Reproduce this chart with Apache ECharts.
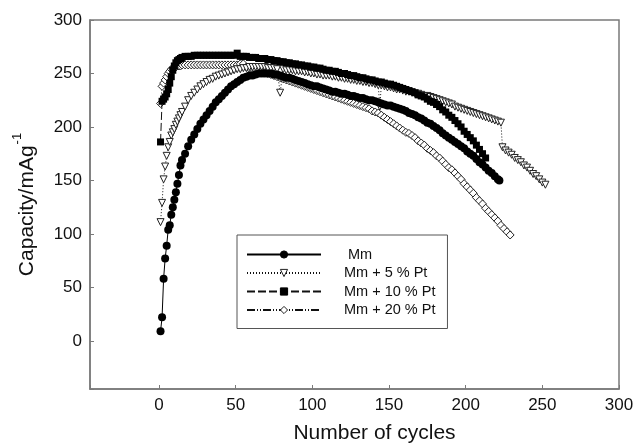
<!DOCTYPE html>
<html>
<head>
<meta charset="utf-8">
<script src="https://cdn.jsdelivr.net/npm/echarts@6/dist/echarts.min.js"></script>
<style>
  html, body { margin: 0; padding: 0; background: #fff; }
  #chart { width: 637px; height: 445px; }
</style>
</head>
<body>
<div id="chart"></div>
<script>
// Discharge capacity against cycle number for the four electrodes, as [cycle, capacity] pairs.
const mmData = [
  [1,9],[2,22],[3,58],[4,77],[5,89],[6,104],[7,108],[8,118],[9,125],[10,132],[11,139],[12,147],[13,155],[14,164],[15,169],
  [17,175],[19,182],[21,188],[23,193],[25,198],[27,203],[29,207],[31,211],[33,215],[35,219],[37,223],[39,226],[41,229],[43,232],
  [45,235],[47,238],[49,240],[51,242],[53,244],[55,246],[57,247],[59,248],[61,248],[63,249],[65,250],[67,250],[69,250],[71,250],
  [73,250],[75,249],[77,249],[79,248],[81,247],[83,246],[85,246],[87,245],[89,244],[91,243],[93,242],[95,241],[97,240],[99,239],
  [101,238],[103,238],[105,237],[107,236],[109,235],[111,234],[113,233],[115,233],[117,232],[119,231],[121,231],[123,230],[125,229],
  [127,229],[129,228],[131,227],[133,227],[135,226],[137,225],[139,225],[141,224],[143,223],[145,222],[147,221],[149,220],[151,220],
  [153,219],[155,218],[157,217],[159,216],[161,215],[163,213],[165,212],[167,211],[169,209],[171,208],[173,206],[175,204],[177,203],
  [179,201],[181,199],[183,197],[185,194],[187,192],[189,190],[191,188],[193,186],[195,184],[197,182],[199,180],[201,177],[203,175],
  [205,173],[207,170],[209,167],[211,165],[213,162],[215,159],[217,157],[219,154],[221,151],[222,150]
];

const pt5Data = [
  [1,111],[2,129],[3,151],[4,163],[5,173],[6,181],[7,186],[8,192],[9,195],[10,198],[11,202],[12,205],[13,208],[14,211],[15,214],
  [17,219],[19,225],[21,229],[23,232],[25,235],[27,238],[29,240],[31,242],[33,244],[35,245],[37,247],[39,248],[41,249],[43,250],
  [45,251],[47,252],[49,253],[51,254],[53,254],[55,255],[57,255],[59,256],[61,256],[63,256],[65,256],[67,256],[69,256],[71,255],
  [73,255],[75,255],[77,254],[79,232],[81,254],[83,253],[85,253],[87,253],[89,252],[91,252],[93,252],[95,251],[97,251],[99,250],
  [101,250],[103,249],[105,249],[107,248],[109,248],[111,248],[113,247],[115,247],[117,246],[119,246],[121,245],[123,245],[125,244],
  [127,244],[129,243],[131,243],[133,242],[135,242],[137,241],[139,241],[141,240],[143,239],[144,219],[145,239],[147,238],[149,237],
  [151,237],[153,236],[155,235],[157,235],[159,234],[161,233],[163,233],[165,232],[167,231],[169,231],[171,230],[173,229],[175,229],
  [177,228],[179,227],[181,226],[183,225],[185,224],[187,223],[189,222],[191,221],[193,219],[195,218],[197,217],[199,216],[201,215],
  [203,214],[205,213],[207,212],[209,211],[211,210],[213,209],[215,208],[217,207],[219,206],[221,205],[223,204],[224,181],[226,178],
  [228,176],[230,174],[232,171],[234,169],[236,167],[238,164],[240,162],[242,159],[244,156],[246,154],[248,151],[250,148],[252,146]
];

const pt10Data = [
  [1,186],[2,224],[3,226],[4,228],[5,231],[6,235],[7,241],[8,247],[9,253],[10,257],[11,260],[12,262],[13,263],[14,264],[15,265],
  [17,266],[19,266],[21,266],[23,267],[25,267],[27,267],[29,267],[31,267],[33,267],[35,267],[37,267],[39,267],[41,267],[43,267],
  [45,267],[47,267],[49,267],[51,269],[53,266],[55,266],[57,266],[59,265],[61,265],[63,265],[65,264],[67,264],[69,264],[71,263],
  [73,263],[75,262],[77,262],[79,261],[81,261],[83,260],[85,260],[87,259],[89,259],[91,258],[93,258],[95,257],[97,257],[99,256],
  [101,256],[103,255],[105,255],[107,254],[109,253],[111,253],[113,252],[115,252],[117,251],[119,250],[121,250],[123,249],[125,248],
  [127,248],[129,247],[131,246],[133,246],[135,245],[137,244],[139,244],[141,243],[143,242],[145,242],[147,241],[149,240],[151,240],
  [153,239],[155,238],[157,237],[159,236],[161,235],[163,234],[165,233],[167,232],[169,230],[171,229],[173,228],[175,226],[177,224],
  [179,223],[181,221],[183,219],[185,216],[187,214],[189,211],[191,209],[193,206],[195,203],[197,200],[199,196],[201,193],[203,190],
  [205,187],[207,183],[209,179],[211,175],[213,171]
];

const pt20Data = [
  [1,222],[2,238],[3,241],[4,244],[5,247],[6,250],[7,252],[8,254],[9,255],[10,256],[11,256],[12,257],[13,257],[14,257],[15,258],
  [17,258],[19,258],[21,258],[23,258],[25,258],[27,258],[29,258],[31,258],[33,258],[35,258],[37,258],[39,258],[41,258],[43,258],
  [45,258],[47,258],[49,258],[51,258],[53,259],[55,259],[57,256],[59,255],[61,255],[63,254],[65,253],[67,252],[69,251],[71,250],
  [73,249],[75,248],[77,247],[79,246],[81,245],[83,244],[85,243],[87,242],[89,241],[91,240],[93,239],[95,238],[97,237],[99,236],
  [101,235],[103,234],[105,233],[107,232],[109,231],[111,230],[113,229],[115,228],[117,227],[119,226],[121,225],[123,224],[125,223],
  [127,222],[129,221],[131,220],[133,219],[135,218],[137,217],[139,215],[141,214],[143,213],[145,211],[147,209],[149,207],[151,205],
  [153,203],[155,201],[157,199],[159,197],[161,195],[163,194],[165,192],[167,190],[169,187],[171,185],[173,183],[175,180],[177,178],
  [179,176],[181,173],[183,171],[185,168],[187,165],[189,162],[191,160],[193,157],[195,154],[197,151],[199,147],[201,144],[203,141],
  [205,138],[207,134],[209,131],[211,128],[213,124],[215,121],[217,118],[219,115],[221,112],[223,108],[225,105],[227,102],[229,99]
];

const seriesNames = [' Mm', 'Mm + 5 % Pt', 'Mm + 10 % Pt', 'Mm + 20 % Pt'];
const xTicks = [0, 50, 100, 150, 200, 250, 300];
const yTicks = [0, 50, 100, 150, 200, 250, 300];

const FONT = '"Liberation Sans", Arial, Helvetica, sans-serif';
const INK = '#111';
const FRAME = '#7a7a7a';

const chart = echarts.init(document.getElementById('chart'), null, { renderer: 'canvas' });

const axisCommon = {
  type: 'value',
  min: -45,
  max: 300,
  minInterval: 50,
  maxInterval: 50,
  axisLine: { show: true, onZero: false, lineStyle: { color: FRAME, width: 1.5 } },
  axisTick: { show: true, inside: true, length: 4, lineStyle: { color: FRAME, width: 1 } },
  splitLine: { show: false },
  nameLocation: 'middle'
};

const option = {
  animation: false,
  backgroundColor: '#fff',
  textStyle: { fontFamily: FONT },
  grid: {
    left: 90, right: 18, top: 20, bottom: 56,
    outerBoundsMode: 'none',
    show: true, borderColor: FRAME, borderWidth: 1.5
  },
  xAxis: Object.assign({}, axisCommon, {
    axisLabel: {
      color: INK, fontSize: 17, fontFamily: FONT, margin: 8,
      formatter: v => (xTicks.indexOf(v) >= 0 ? String(v) : '')
    },
    name: 'Number of cycles',
    nameGap: 34,
    // the title sits a little right of the plot centre
    nameTextStyle: { color: INK, fontSize: 21, fontFamily: FONT, padding: [0, 0, 0, 40] }
  }),
  yAxis: Object.assign({}, axisCommon, {
    axisLabel: {
      color: INK, fontSize: 17, fontFamily: FONT, margin: 8,
      formatter: v => (yTicks.indexOf(v) >= 0 ? String(v) : '')
    },
    name: '{a|Capacity/mAg}{b|-1}',
    nameGap: 52,
    nameTextStyle: {
      color: INK, fontFamily: FONT,
      rich: {
        a: { fontSize: 21, color: INK, fontFamily: FONT, lineHeight: 27, verticalAlign: 'bottom' },
        b: { fontSize: 13, color: INK, fontFamily: FONT, lineHeight: 27, verticalAlign: 'top', padding: [0, 0, 0, 1] }
      }
    }
  }),
  legend: {
    orient: 'vertical',
    left: 237,
    top: 235,
    padding: [12, 12, 11, 9],
    itemWidth: 74,
    itemHeight: 9,
    itemGap: 3.5,
    borderColor: '#555',
    borderWidth: 1,
    backgroundColor: '#fff',
    symbolRotate: 'inherit',
    itemStyle: { borderWidth: 1 },
    textStyle: { color: INK, fontSize: 14.5, fontFamily: FONT, padding: [0, 0, 0, 18] },
    data: seriesNames
  },
  series: [
    {
      name: seriesNames[3],
      type: 'line',
      data: pt20Data,
      symbol: 'diamond',
      symbolSize: 8,
      showAllSymbol: true,
      itemStyle: { color: '#fff', borderColor: '#222', borderWidth: 1 },
      lineStyle: { color: INK, width: 1, type: [8, 2, 1, 2, 1, 2] },
      z: 2
    },
    {
      name: seriesNames[1],
      type: 'line',
      data: pt5Data,
      symbol: 'triangle',
      symbolRotate: 180,
      symbolSize: 7,
      showAllSymbol: true,
      itemStyle: { color: '#fff', borderColor: '#222', borderWidth: 1 },
      lineStyle: { color: INK, width: 1, type: [1, 2] },
      z: 3
    },
    {
      name: seriesNames[2],
      type: 'line',
      data: pt10Data,
      symbol: 'rect',
      symbolSize: 7,
      showAllSymbol: true,
      itemStyle: { color: '#000', borderColor: '#000', borderWidth: 0 },
      lineStyle: { color: INK, width: 1, type: [8, 3] },
      z: 4
    },
    {
      name: seriesNames[0],
      type: 'line',
      data: mmData,
      symbol: 'circle',
      symbolSize: 8,
      showAllSymbol: true,
      itemStyle: { color: '#000', borderColor: '#000', borderWidth: 0 },
      lineStyle: { color: '#000', width: 1, type: 'solid' },
      z: 5
    }
  ]
};

chart.setOption(option);
</script>
</body>
</html>
